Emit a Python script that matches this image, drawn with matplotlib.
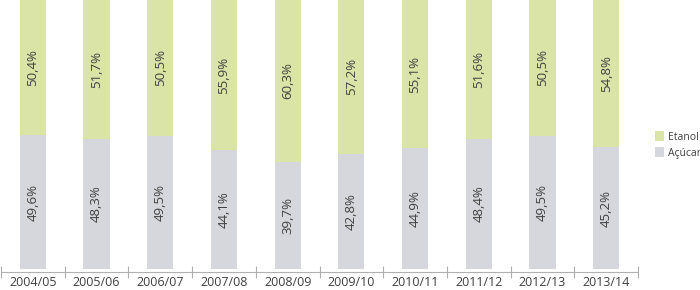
import numpy as np
import matplotlib.pyplot as plt

plt.rcParams['font.family'] = ['Open Sans', 'DejaVu Sans']

safras = ["2004/05", "2005/06", "2006/07", "2007/08", "2008/09",
          "2009/10", "2010/11", "2011/12", "2012/13", "2013/14"]
acucar = [49.6, 48.3, 49.5, 44.1, 39.7, 42.8, 44.9, 48.4, 49.5, 45.2]
etanol = [50.4, 51.7, 50.5, 55.9, 60.3, 57.2, 55.1, 51.6, 50.5, 54.8]

c_etanol = "#d9e4a6"
c_acucar = "#d6d7dc"
txt = "#404040"

fig = plt.figure(figsize=(7, 2.9), dpi=100)
ax = fig.add_axes([1/700, 18/290, 637/700, 272/290])

x = np.arange(len(safras))
w = 0.41
ax.bar(x, acucar, w, color=c_acucar, label="Açúcar")
ax.bar(x, etanol, w, bottom=acucar, color=c_etanol, label="Etanol")

for i in range(len(safras)):
    ax.text(x[i], acucar[i] / 2, f"{acucar[i]:.1f}%".replace(".", ","),
            rotation=90, ha="center", va="center", fontsize=9.5, color=txt)
    ax.text(x[i], acucar[i] + etanol[i] / 2, f"{etanol[i]:.1f}%".replace(".", ","),
            rotation=90, ha="center", va="center", fontsize=9.5, color=txt)

ax.set_xlim(-0.5, len(safras) - 0.5)
ax.set_ylim(-1.2, 100)
for s in ["top", "right", "left"]:
    ax.spines[s].set_visible(False)
ax.spines["bottom"].set_color("#b0b0b0")
ax.spines["bottom"].set_linewidth(0.8)
ax.set_yticks([])

ax.set_xticks(x)
ax.set_xticklabels(safras, fontsize=9, color=txt)
ax.tick_params(axis="x", length=0, pad=3)
ax.set_xticks(np.arange(len(safras) + 1) - 0.5, minor=True)
ax.tick_params(axis="x", which="minor", length=8, direction="inout",
               color="#b0b0b0", width=0.8)

h, l = ax.get_legend_handles_labels()
fig.legend(h[::-1], l[::-1], loc="center left", bbox_to_anchor=(655/700, 1 - 145/290),
           frameon=False, fontsize=7.5, labelcolor=txt, handlelength=0.85,
           handleheight=1.0, handletextpad=0.4, labelspacing=0.45,
           borderpad=0, borderaxespad=0)

fig.savefig("out.png", dpi=100)
